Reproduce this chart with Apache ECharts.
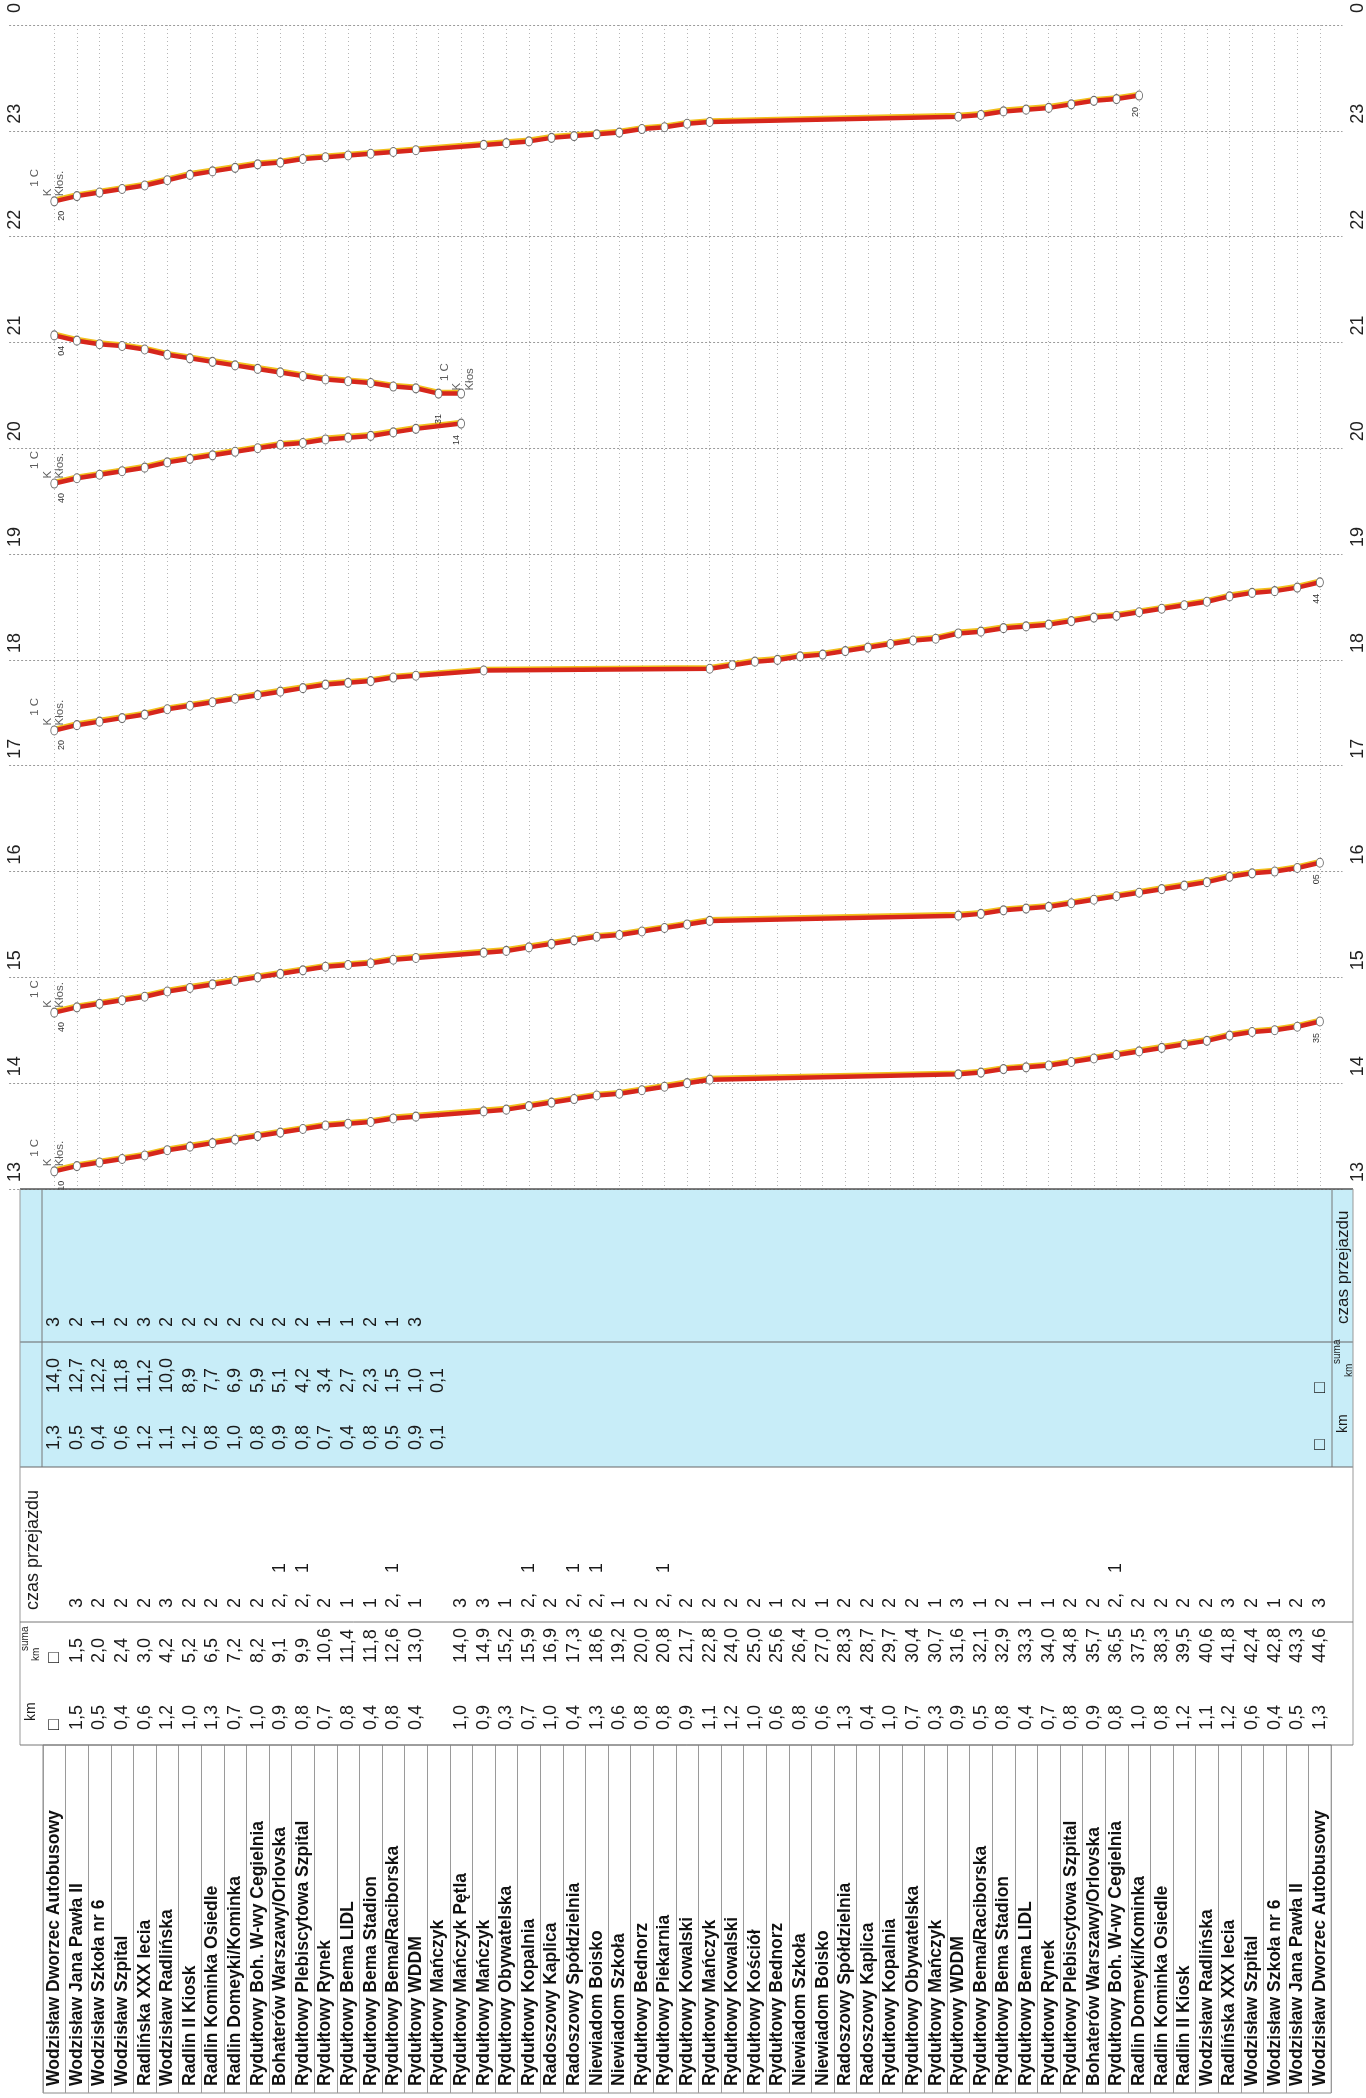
<!DOCTYPE html>
<html><head><meta charset="utf-8">
<script src="https://cdn.jsdelivr.net/npm/echarts@6/dist/echarts.min.js"></script>
<style>html,body{margin:0;padding:0;background:#fff}#c{width:1366px;height:2098px}</style>
</head><body><div id="c"></div>
<script>
// ---------- DATA ----------
const stops = ['Wodzisław Dworzec Autobusowy','Wodzisław Jana Pawła II','Wodzisław Szkoła nr 6','Wodzisław Szpital','Radlińska XXX lecia','Wodzisław Radlińska','Radlin II Kiosk','Radlin Kominka Osiedle','Radlin Domeyki/Kominka','Rydułtowy Boh. W-wy Cegielnia','Bohaterów Warszawy/Orlovska','Rydułtowy Plebiscytowa Szpital','Rydułtowy Rynek','Rydułtowy Bema LIDL','Rydułtowy Bema Stadion','Rydułtowy Bema/Raciborska','Rydułtowy WDDM','Rydułtowy Mańczyk','Rydułtowy Mańczyk Pętla','Rydułtowy Mańczyk','Rydułtowy Obywatelska','Rydułtowy Kopalnia','Radoszowy Kaplica','Radoszowy Spółdzielnia','Niewiadom Boisko','Niewiadom Szkoła','Rydułtowy Bednorz','Rydułtowy Piekarnia','Rydułtowy Kowalski','Rydułtowy Mańczyk','Rydułtowy Kowalski','Rydułtowy Kościół','Rydułtowy Bednorz','Niewiadom Szkoła','Niewiadom Boisko','Radoszowy Spółdzielnia','Radoszowy Kaplica','Rydułtowy Kopalnia','Rydułtowy Obywatelska','Rydułtowy Mańczyk','Rydułtowy WDDM','Rydułtowy Bema/Raciborska','Rydułtowy Bema Stadion','Rydułtowy Bema LIDL','Rydułtowy Rynek','Rydułtowy Plebiscytowa Szpital','Bohaterów Warszawy/Orlovska','Rydułtowy Boh. W-wy Cegielnia','Radlin Domeyki/Kominka','Radlin Kominka Osiedle','Radlin II Kiosk','Wodzisław Radlińska','Radlińska XXX lecia','Wodzisław Szpital','Wodzisław Szkoła nr 6','Wodzisław Jana Pawła II','Wodzisław Dworzec Autobusowy'];

const kmLower = ['□','1,5','0,5','0,4','0,6','1,2','1,0','1,3','0,7','1,0','0,9','0,8','0,7','0,8','0,4','0,8','0,4','','1,0','0,9','0,3','0,7','1,0','0,4','1,3','0,6','0,8','0,8','0,9','1,1','1,2','1,0','0,6','0,8','0,6','1,3','0,4','1,0','0,7','0,3','0,9','0,5','0,8','0,4','0,7','0,8','0,9','0,8','1,0','0,8','1,2','1,1','1,2','0,6','0,4','0,5','1,3'];
const sumaLower = ['□','1,5','2,0','2,4','3,0','4,2','5,2','6,5','7,2','8,2','9,1','9,9','10,6','11,4','11,8','12,6','13,0','','14,0','14,9','15,2','15,9','16,9','17,3','18,6','19,2','20,0','20,8','21,7','22,8','24,0','25,0','25,6','26,4','27,0','28,3','28,7','29,7','30,4','30,7','31,6','32,1','32,9','33,3','34,0','34,8','35,7','36,5','37,5','38,3','39,5','40,6','41,8','42,4','42,8','43,3','44,6'];
const czasLower = ['','3','2','2','2','3','2','2','2','2','2,1','2,1','2','1','1','2,1','1','','3','3','1','2,1','2','2,1','2,1','1','2','2,1','2','2','2','2','1','2','1','2','2','2','2','1','3','1','2','1','1','2','2','2,1','2','2','2','2','3','2','1','2','3'];

const czasBlueRead = ['3','2','1','2','3','2','2','2','2','2','2','2','1','1','2','1','3'];
const kmBlueRead = ['1,3','0,5','0,4','0,6','1,2','1,1','1,2','0,8','1,0','0,8','0,9','0,8','0,7','0,4','0,8','0,5','0,9','0,1'];
const sumaBlueRead = ['14,0','12,7','12,2','11,8','11,2','10,0','8,9','7,7','6,9','5,9','5,1','4,2','3,4','2,7','2,3','1,5','1,0','0,1'];
const blueLastCell = '□';

// departure times at each stop (null = not served)
const trip1 = ['13:10','13:13','13:15','13:17','13:19','13:22','13:24','13:26','13:28','13:30','13:32','13:34','13:36','13:37','13:38','13:40','13:41',null,null,'13:44','13:45','13:47','13:49','13:51','13:53','13:54','13:56','13:58','14:00','14:02',null,null,null,null,null,null,null,null,null,null,'14:05','14:06','14:08','14:09','14:10','14:12','14:14','14:16','14:18','14:20','14:22','14:24','14:27','14:29','14:30','14:32','14:35'];
const trip2 = ['14:40','14:43','14:45','14:47','14:49','14:52','14:54','14:56','14:58','15:00','15:02','15:04','15:06','15:07','15:08','15:10','15:11',null,null,'15:14','15:15','15:17','15:19','15:21','15:23','15:24','15:26','15:28','15:30','15:32',null,null,null,null,null,null,null,null,null,null,'15:35','15:36','15:38','15:39','15:40','15:42','15:44','15:46','15:48','15:50','15:52','15:54','15:57','15:59','16:00','16:02','16:05'];
const trip3 = ['17:20','17:23','17:25','17:27','17:29','17:32','17:34','17:36','17:38','17:40','17:42','17:44','17:46','17:47','17:48','17:50','17:51',null,null,'17:54',null,null,null,null,null,null,null,null,null,'17:55','17:57','17:59','18:00','18:02','18:03','18:05','18:07','18:09','18:11','18:12','18:15','18:16','18:18','18:19','18:20','18:22','18:24','18:25','18:27','18:29','18:31','18:33','18:36','18:38','18:39','18:41','18:44'];
const trip4 = ['19:40','19:43','19:45','19:47','19:49','19:52','19:54','19:56','19:58','20:00','20:02','20:03','20:05','20:06','20:07','20:09','20:11',null,'20:14',null,null,null,null,null,null,null,null,null,null,null,null,null,null,null,null,null,null,null,null,null,null,null,null,null,null,null,null,null,null,null,null,null,null,null,null,null,null];
const trip4back = ['21:04','21:01','20:59','20:58','20:56','20:53','20:51','20:49','20:47','20:45','20:43','20:41','20:39','20:38','20:37','20:35','20:34','20:31','20:31',null,null,null,null,null,null,null,null,null,null,null,null,null,null,null,null,null,null,null,null,null,null,null,null,null,null,null,null,null,null,null,null,null,null,null,null,null,null];
const trip5 = ['22:20','22:23','22:25','22:27','22:29','22:32','22:35','22:37','22:39','22:41','22:42','22:44','22:45','22:46','22:47','22:48','22:49',null,null,'22:52','22:53','22:54','22:56','22:57','22:58','22:59','23:01','23:02','23:04','23:05',null,null,null,null,null,null,null,null,null,null,'23:08','23:09','23:11','23:12','23:13','23:15','23:17','23:18','23:20',null,null,null,null,null,null,null,null];

const tripNote = '   1 C\nK\nKłos.';
const tripNoteBack = '   1 C\nK\nKłos';
const hourMin = 13, hourMax = 24;

// ---------- LAYOUT ----------
const FONT = '"Liberation Sans", Arial, Helvetica, sans-serif';
const N = stops.length;
const STEP = 22.6;
const T_LEFT = 43;
const T_W = N * STEP;
const PAD_L = 2, PAD_R = 1;
const C_LEFT = T_LEFT + STEP / 2 - PAD_L * STEP;
const C_W = (N - 1 + PAD_L + PAD_R) * STEP;
const C_TOP = 25, C_H = 1164;

function fill(arr) { const out = arr.slice(); while (out.length < N) out.push(''); return out; }
const czasBlue = fill(czasBlueRead);
const kmBlue = fill(kmBlueRead); kmBlue[N - 1] = blueLastCell;
const sumaBlue = fill(sumaBlueRead); sumaBlue[N - 1] = blueLastCell;

function toMin(t) { if (!t) return null; const p = t.split(':'); return (+p[0]) * 60 + (+p[1]); }

const chartCats = [];
for (let i = 0; i < PAD_L; i++) chartCats.push('L' + i);
stops.forEach((s, i) => chartCats.push('S' + (i + 1)));
for (let i = 0; i < PAD_R; i++) chartCats.push('R' + i);

const grids = [], xAxes = [], yAxes = [], series = [], graphics = [];

// main chart grid
grids.push({ left: C_LEFT, top: C_TOP, width: C_W, height: C_H, containLabel: false, outerBoundsMode: 'none' });
xAxes.push({
  gridIndex: 0, type: 'category', data: chartCats, boundaryGap: false,
  axisLine: { show: false }, axisTick: { show: false }, axisLabel: { show: false, interval: 0 },
  splitLine: { show: true, interval: (idx) => idx >= PAD_L && idx < PAD_L + N,
    lineStyle: { color: '#b5b5b5', width: 1, type: [1, 3] } }
});
const timeLabel = {
  rotate: 90, fontSize: 18, color: '#222', fontFamily: FONT,
  padding: [0, 0, 0, 34], formatter: v => String((v / 60) % 24)
};
yAxes.push({
  gridIndex: 0, type: 'value', min: hourMin * 60, max: hourMax * 60, interval: 60, position: 'left', offset: -17,
  axisLine: { show: false }, axisTick: { show: false },
  axisLabel: Object.assign({ margin: 2 }, timeLabel),
  splitLine: { show: true, lineStyle: { color: '#9a9a9a', width: 1, type: [2, 2] } }
});
yAxes.push({
  gridIndex: 0, type: 'value', min: hourMin * 60, max: hourMax * 60, interval: 60, position: 'right', offset: 0,
  axisLine: { show: false }, axisTick: { show: false },
  axisLabel: Object.assign({ margin: 7 }, timeLabel),
  splitLine: { show: false }
});

// trips
const trips = [
  { t: trip1, note: tripNote, noteSide: 'left', dep: [8, 20], arr: [-3, 22] },
  { t: trip2, note: tripNote, noteSide: 'left', dep: [8, 20], arr: [-3, 22] },
  { t: trip3, note: tripNote, noteSide: 'left', dep: [8, 20], arr: [-3, 22] },
  { t: trip4, note: tripNote, noteSide: 'left', dep: [8, 20], arr: [-4, 22] },
  { t: trip4back, note: tripNoteBack, noteSide: 'right', dep: [0, 31], arr: [8, 21] },
  { t: trip5, note: tripNote, noteSide: 'left', dep: [8, 20], arr: [-3, 22] }
];
trips.forEach(tr => {
  const mins = tr.t.map(toMin);
  let dep = -1, arr = -1;
  mins.forEach((v, i) => {
    if (v == null) return;
    if (dep < 0 || v < mins[dep]) dep = i;
    if (arr < 0 || v > mins[arr]) arr = i;
  });
  const data = chartCats.map(() => '-');
  mins.forEach((v, i) => {
    if (v == null) return;
    const item = { value: v };
    if (i === dep || i === arr) {
      const off = i === dep ? tr.dep : tr.arr;
      item.label = {
        show: true, formatter: tr.t[i].split(':')[1], position: [3.5 + off[0], 4.5 + off[1]],
        rotate: 90, align: 'left', verticalAlign: 'middle', fontSize: 9, color: '#333', fontFamily: FONT
      };
    }
    data[i + PAD_L] = item;
  });
  series.push({
    type: 'line', xAxisIndex: 0, yAxisIndex: 0, data, connectNulls: true, showAllSymbol: true,
    symbol: 'circle', symbolSize: [7, 9], animation: false, z: 3,
    itemStyle: { color: '#ffffff', borderColor: '#6e6e6e', borderWidth: 1 },
    lineStyle: { color: '#d6261c', width: 4.5, shadowColor: '#f2c01c', shadowBlur: 0, shadowOffsetY: -1.6 },
    label: { show: false }, emphasis: { disabled: true }
  });
  const left = tr.noteSide === 'left';
  series.push({
    type: 'scatter', xAxisIndex: 0, yAxisIndex: 0, symbolSize: 2, animation: false, z: 4,
    itemStyle: { color: 'rgba(0,0,0,0)' }, emphasis: { disabled: true },
    data: [{ value: [dep + PAD_L, mins[dep]], label: {
      show: true, formatter: tr.note, rotate: 90, fontSize: 11.5, lineHeight: 12.5, color: '#333', fontFamily: FONT,
      align: 'left', verticalAlign: left ? 'bottom' : 'top', position: left ? [13, -4] : [1, -2]
    } }]
  });
});

// table text rows (each row is a category axis aligned with the stops)
function row(top, arr, extra) {
  const gi = grids.length;
  grids.push({ left: T_LEFT, top: top, width: T_W, height: 10, containLabel: false, outerBoundsMode: 'none' });
  xAxes.push({
    gridIndex: gi, type: 'category', data: arr, position: 'top', boundaryGap: true,
    axisLine: { show: false }, axisTick: { show: false }, splitLine: { show: false },
    axisLabel: Object.assign({ interval: 0, rotate: 90, margin: 0, fontSize: 18, color: '#1a1a1a', fontFamily: FONT }, extra || {})
  });
  yAxes.push({ gridIndex: gi, type: 'value', show: false });
}
const czasFmt = { formatter: v => v.replace(',', ',    ') };
row(1327, czasBlue, czasFmt);
row(1393, sumaBlue);
row(1450, kmBlue);
row(1608, czasLower, czasFmt);
row(1663, sumaLower);
row(1730, kmLower);

// stop names table
{
  const gi = grids.length;
  grids.push({ left: T_LEFT, top: 1745, width: T_W, height: 348, show: true, borderColor: '#8a8a8a', borderWidth: 1,
    backgroundColor: 'rgba(0,0,0,0)', containLabel: false, outerBoundsMode: 'none' });
  xAxes.push({
    gridIndex: gi, type: 'category', data: stops, position: 'bottom', boundaryGap: true,
    axisLine: { show: false }, axisTick: { show: false },
    splitLine: { show: true, interval: 0, lineStyle: { color: '#9a9a9a', width: 1 } },
    axisLabel: { interval: 0, inside: true, rotate: 90, margin: 7, fontSize: 17.5, fontWeight: 'bold', color: '#111', fontFamily: FONT }
  });
  yAxes.push({ gridIndex: gi, type: 'value', show: false });
}

// table frames and headers
function rect(x, y, w, h, fillC) { graphics.push({ type: 'rect', shape: { x, y, width: w, height: h }, style: { fill: fillC }, z: -5, silent: true }); }
function line(x1, y1, x2, y2, c, w) { graphics.push({ type: 'line', shape: { x1, y1, x2, y2 }, style: { stroke: c, lineWidth: w }, z: 5, silent: true }); }
function vtext(x, y, text, size) {
  graphics.push({ type: 'text', x, y, rotation: Math.PI / 2, z: 5, silent: true,
    style: { text, fontSize: size, fontFamily: FONT, fill: '#1a1a1a', align: 'left', verticalAlign: 'middle', textAlign: 'left', textVerticalAlign: 'middle' } });
}
rect(20, 1189, 1333, 278, '#c8edf8');
line(20, 1189, 1353, 1189, '#555', 1.5);
line(20, 1342, 1353, 1342, '#666', 1.2);
line(20, 1467, 1353, 1467, '#666', 1.2);
line(42, 1189, 42, 1467, '#777', 1);
line(1332, 1189, 1332, 1467, '#777', 1);
line(20, 1189, 20, 1745, '#999', 1);
line(1353, 1189, 1353, 1745, '#999', 1);
line(20, 1622, 1353, 1622, '#777', 1);
line(20, 1745, 1353, 1745, '#777', 1);
vtext(33, 1610, 'czas przejazdu', 18);
vtext(31, 1721, 'km', 14);
vtext(25, 1651, 'suma', 10);
vtext(36, 1661, 'km', 10);
vtext(1343, 1324, 'czas przejazdu', 17);
vtext(1343, 1433, 'km', 14);
vtext(1337, 1364, 'suma', 10);
vtext(1349, 1377, 'km', 10);

const chart = echarts.init(document.getElementById('c'), null, { renderer: 'canvas' });
chart.setOption({
  animation: false,
  backgroundColor: '#ffffff',
  textStyle: { fontFamily: FONT },
  grid: grids, xAxis: xAxes, yAxis: yAxes, series, graphic: graphics
});
</script>
</body></html>
